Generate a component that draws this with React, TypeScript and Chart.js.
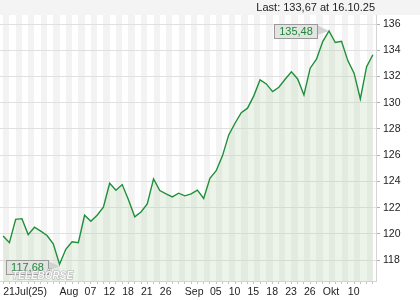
import React, { useEffect, useRef } from 'react';
import { Chart, registerables } from 'chart.js';

Chart.register(...registerables);

const values = [
  119.84, 119.33, 121.11, 121.16, 119.94, 120.5, 120.2, 119.87, 119.23, 117.68,
  118.82, 119.4, 119.33, 121.42, 120.96, 121.42, 122.03, 123.86, 123.33, 123.76,
  122.6, 121.3, 121.67, 122.28, 124.19, 123.3, 123.05, 122.82, 123.1, 122.9,
  123.05, 123.33, 122.7, 124.24, 124.82, 125.95, 127.55, 128.44, 129.25, 129.59,
  130.53, 131.75, 131.44, 130.85, 131.19, 131.8, 132.36, 131.82, 130.6, 132.64,
  133.33, 134.67, 135.48, 134.6, 134.7, 133.22, 132.26, 130.3, 132.76, 133.67,
];

const tickLabels = ['21Jul(25)', 'Aug', '07', '12', '18', '21', '26', 'Sep', '05', '10', '15', '18', '23', '26', 'Okt', '10'];
const tickIndices = [0, 9, 13, 16, 19, 22, 25, 29, 33, 36, 39, 42, 45, 48, 51, 55];
const yTicks = [118, 120, 122, 124, 126, 128, 130, 132, 134, 136];
const yMin = 116.4;
const yMax = 136.7;
const lastDate = '16.10.25';
const watermark = 'TELEBÖRSE';

const FONT = '"Liberation Sans", Arial, sans-serif';
const fmt = (v: number) => v.toFixed(2).replace('.', ',');

export default function App() {
  const ref = useRef<HTMLCanvasElement>(null);

  useEffect(() => {
    if (!ref.current) return;
    const categories = values.map((_, i) => {
      const k = tickIndices.indexOf(i);
      return k >= 0 ? tickLabels[k] : '';
    });

    const bgPlugin = {
      id: 'bgStripes',
      beforeDraw(chart: any) {
        const { ctx, chartArea: a, scales } = chart;
        const x = scales.x;
        ctx.save();
        ctx.fillStyle = '#f4f4f4';
        ctx.fillRect(0, 0, chart.width, a.top);
        ctx.fillStyle = '#f3f3f3';
        for (let i = 0; i < values.length - 1; i += 2) {
          const x0 = Math.round(x.getPixelForValue(i));
          const x1 = Math.round(x.getPixelForValue(i + 1));
          ctx.fillRect(x0, a.top, x1 - x0, a.bottom - a.top);
        }
        ctx.restore();
      },
    };

    const drawTag = (ctx: CanvasRenderingContext2D, px: number, py: number, text: string) => {
      ctx.save();
      ctx.font = `11px ${FONT}`;
      const w = Math.round(ctx.measureText(text).width + 9);
      const h = 14;
      const right = Math.round(px - 12);
      const left = right - w;
      const top = Math.round(py - h / 2 + 0.5);
      ctx.fillStyle = 'rgba(205,205,205,0.85)';
      ctx.beginPath();
      ctx.moveTo(right, top + 1);
      ctx.lineTo(px, py);
      ctx.lineTo(right, top + h - 3);
      ctx.closePath();
      ctx.fill();
      ctx.fillStyle = 'rgba(226,226,226,0.92)';
      ctx.fillRect(left + 0.5, top + 0.5, w, h);
      ctx.strokeStyle = '#9a9a9a';
      ctx.lineWidth = 1;
      ctx.strokeRect(left + 0.5, top + 0.5, w, h);
      ctx.fillStyle = '#1c8a34';
      ctx.textAlign = 'center';
      ctx.textBaseline = 'middle';
      ctx.fillText(text, left + w / 2 + 0.5, top + h / 2 + 1);
      ctx.restore();
    };

    const tagPlugin = {
      id: 'tags',
      afterDatasetsDraw(chart: any) {
        const { ctx, scales, chartArea: a } = chart;
        const xs = scales.x;
        const ys = scales.y;
        let maxI = 0;
        let minI = 0;
        values.forEach((v, i) => {
          if (v > values[maxI]) maxI = i;
          if (v < values[minI]) minI = i;
        });
        drawTag(ctx, xs.getPixelForValue(maxI), ys.getPixelForValue(values[maxI]), fmt(values[maxI]));
        drawTag(ctx, xs.getPixelForValue(minI), ys.getPixelForValue(values[minI]) + 2, fmt(values[minI]));

        // watermark
        ctx.save();
        ctx.font = `italic bold 10px ${FONT}`;
        ctx.textAlign = 'left';
        ctx.textBaseline = 'alphabetic';
        ctx.lineWidth = 1;
        ctx.strokeStyle = 'rgba(160,160,160,0.8)';
        ctx.fillStyle = 'rgba(255,255,255,0.9)';
        ctx.strokeText(watermark, 12, a.bottom - 2);
        ctx.fillText(watermark, 12, a.bottom - 2);
        ctx.restore();

        // last value header
        const last = values[values.length - 1];
        ctx.save();
        ctx.font = `11px ${FONT}`;
        ctx.fillStyle = '#222';
        ctx.textAlign = 'right';
        ctx.textBaseline = 'middle';
        ctx.fillText(`Last: ${fmt(last)} at ${lastDate}`, a.right - 1, 8);
        ctx.restore();
      },
    };

    const chart = new Chart(ref.current, {
      type: 'line',
      data: {
        labels: categories,
        datasets: [
          {
            data: values,
            borderColor: '#1f8f3a',
            borderWidth: 1.4,
            backgroundColor: 'rgba(185,215,180,0.28)',
            fill: 'start',
            pointRadius: 0,
            tension: 0,
          },
        ],
      },
      options: {
        responsive: false,
        animation: false,
        layout: { padding: { top: 15, left: 0, right: 0, bottom: 0 } },
        plugins: {
          legend: { display: false },
          tooltip: { enabled: false },
        },
        scales: {
          x: {
            type: 'category',
            offset: true,
            grid: {
              display: true,
              drawOnChartArea: false,
              drawTicks: true,
              tickLength: 3,
              color: '#c4c4c4',
              offset: false,
            },
            border: { display: true, color: '#d4d4d4' },
            ticks: {
              autoSkip: false,
              maxRotation: 0,
              minRotation: 0,
              align: 'start',
              padding: 2,
              color: '#222',
              font: { family: FONT, size: 10.5 },
            },
            afterFit: (s: any) => {
              s.height = 19;
            },
          },
          y: {
            type: 'linear',
            position: 'right',
            min: yMin,
            max: yMax,
            afterBuildTicks: (s: any) => {
              s.ticks = yTicks.map((v) => ({ value: v }));
            },
            grid: {
              color: '#e0e0e0',
              tickColor: '#b0b0b0',
              tickLength: 4,
              drawTicks: true,
            },
            border: { display: true, color: '#d4d4d4' },
            ticks: {
              padding: 3,
              color: '#222',
              font: { family: FONT, size: 10.5 },
            },
            afterFit: (s: any) => {
              s.width = 44;
            },
          },
        },
      },
      plugins: [bgPlugin, tagPlugin],
    } as any);

    return () => chart.destroy();
  }, []);

  return (
    <div style={{ position: 'absolute', left: 0, top: 0, width: 420, height: 300, background: '#fff' }}>
      <canvas ref={ref} width={420} height={300} style={{ display: 'block' }} />
    </div>
  );
}
